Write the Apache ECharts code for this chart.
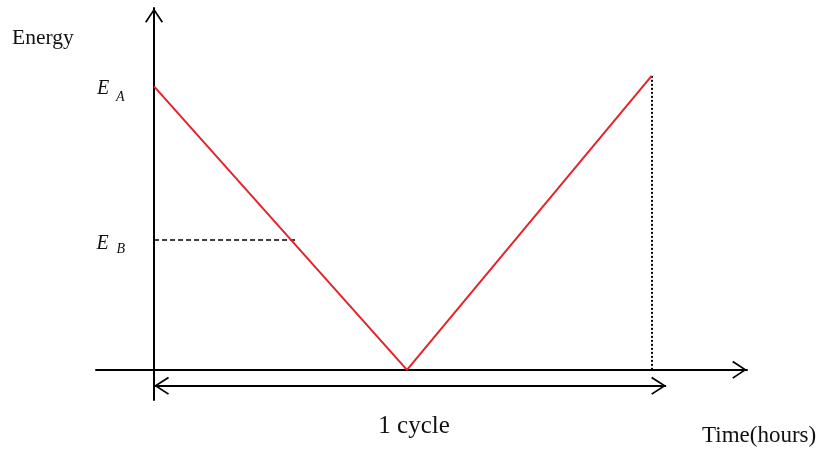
<!DOCTYPE html>
<html>
<head>
<meta charset="utf-8">
<script src="https://cdn.jsdelivr.net/npm/echarts@6/dist/echarts.min.js"></script>
<style>
  html, body { margin: 0; padding: 0; background: #ffffff; }
  #chart { width: 821px; height: 455px; }
</style>
</head>
<body>
<div id="chart"></div>
<script>
// ---- data ----
const timePoints   = [0, 12.2, 24];        // hours: start, empty, full again
const energyPoints = [94, 0, 97.5];        // energy level along the cycle
const energyA = 94;                        // E_A level
const energyB = 43;                        // E_B level
const energyBCrossTime = 6.9;              // where the E_B guide ends
const cycleStart = 0;
const cycleEnd = 24.7;                     // "1 cycle" arrow extent
const cycleArrowLevel = -5.3;              // level of the "1 cycle" arrow
const fullTime = 24;                       // dotted drop line
const fullEnergy = 97.5;
const xRange = [-2.8, 28.6];
const yRange = [-10, 120];

const chevron = 'path://M0,13.6 L9,0 L18,13.6 L16.6,14.6 L9,3 L1.4,14.6 Z';

const chart = echarts.init(document.getElementById('chart'), null, { renderer: 'canvas' });

const seriesData = timePoints.map((t, i) => [t, energyPoints[i]]);

const option = {
  animation: false,
  backgroundColor: '#ffffff',
  grid: { left: 96, right: 74, top: 8, bottom: 55 },
  xAxis: {
    type: 'value',
    min: xRange[0], max: xRange[1],
    axisLine: {
      show: true, onZero: true,
      lineStyle: { color: '#000', width: 2 },
      symbol: ['none', chevron],
      symbolSize: [18, 15],
      symbolOffset: [0, -7.5]
    },
    axisTick: { show: false },
    axisLabel: { show: false },
    splitLine: { show: false }
  },
  yAxis: {
    type: 'value',
    min: yRange[0], max: yRange[1],
    axisLine: {
      show: true, onZero: true,
      lineStyle: { color: '#000', width: 2 },
      symbol: ['none', chevron],
      symbolSize: [18, 15],
      symbolOffset: [0, -7.5]
    },
    axisTick: { show: false },
    axisLabel: { show: false },
    splitLine: { show: false }
  },
  series: [
    {
      type: 'line',
      data: seriesData,
      symbol: 'none',
      lineStyle: { color: '#e5232b', width: 2 },
      z: 5,
      silent: true,
      markLine: {
        silent: true,
        animation: false,
        label: { show: false },
        emphasis: { disabled: true },
        symbol: ['none', 'none'],
        data: [
          [
            { coord: [0, energyB], lineStyle: { color: '#000', width: 1.5, type: [5, 3] } },
            { coord: [energyBCrossTime, energyB] }
          ],
          [
            { coord: [fullTime, 0], lineStyle: { color: '#000', width: 2, type: [2, 2] } },
            { coord: [fullTime, fullEnergy] }
          ],
          [
            { coord: [cycleStart, cycleArrowLevel], symbol: chevron, symbolSize: [18, 15], symbolOffset: [0, 7.5],
              lineStyle: { color: '#000', width: 2, type: 'solid' } },
            { coord: [cycleEnd, cycleArrowLevel], symbol: chevron, symbolSize: [18, 15], symbolOffset: [0, 7.5] }
          ]
        ]
      }
    }
  ]
};

chart.setOption(option);

// ---- text labels placed from the data scale ----
const px = (x, y) => chart.convertToPixel({ gridIndex: 0 }, [x, y]);
const serif = '"Liberation Serif", "DejaVu Serif", serif';
const ink = '#111111';
const pA = px(0, energyA);
const pB = px(0, energyB);
const pC = px((cycleStart + cycleEnd) / 2, cycleArrowLevel);

function txt(x, y, s, size, extra) {
  return {
    type: 'text', x: x, y: y, silent: true,
    style: Object.assign({ text: s, fontFamily: serif, fontSize: size, fill: ink,
      align: 'left', verticalAlign: 'middle' }, extra || {})
  };
}

chart.setOption({
  graphic: [
    txt(12, 38, 'Energy', 21.5),
    txt(702, 435.5, 'Time(hours)', 23),
    txt(pC[0] + 4, 426.5, '1 cycle', 25, { align: 'center' }),
    txt(97, pA[1] + 2.8, 'E', 20, { fontStyle: 'italic' }),
    txt(116, pA[1] + 10.8, 'A', 14, { fontStyle: 'italic' }),
    txt(96.5, pB[1] + 3.7, 'E', 20, { fontStyle: 'italic' }),
    txt(116.5, pB[1] + 9.3, 'B', 14, { fontStyle: 'italic' })
  ]
});
</script>
</body>
</html>
